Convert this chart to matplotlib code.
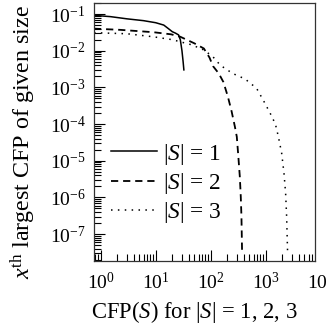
import numpy as np
import matplotlib
matplotlib.use("Agg")
import matplotlib.pyplot as plt
from matplotlib.ticker import LogLocator, NullFormatter

plt.rcParams['font.family'] = ['Liberation Serif', 'DejaVu Serif']
plt.rcParams['mathtext.fontset'] = 'custom'
plt.rcParams['mathtext.rm'] = 'Liberation Serif'
plt.rcParams['mathtext.it'] = 'Liberation Serif:italic'
plt.rcParams['mathtext.bf'] = 'Liberation Serif:bold'

# |S| = 1
x1 = [0.755, 1.5, 3, 6, 10, 14, 17, 20, 23, 26, 28, 30, 31.5, 32.5]
y1 = [0.092, 0.085, 0.074, 0.066, 0.058, 0.05, 0.04, 0.033, 0.03, 0.027, 0.02, 0.01, 0.005, 0.003]
# |S| = 2
x2 = [0.755, 2.3, 9, 19, 28, 50, 75, 95, 110, 140, 170, 205, 240, 275, 298, 318, 338, 352, 362, 372]
y2 = [0.040, 0.037, 0.032, 0.028, 0.024, 0.016, 0.0115, 0.0065, 0.0038, 0.0024, 0.0014,
      5.6e-4, 2.2e-4, 8.5e-5, 4.5e-5, 1.3e-5, 3.7e-6, 1.05e-6, 3e-7, 3e-8]
# |S| = 3
x3 = [0.755, 3, 9, 20, 45, 75, 110, 150, 250, 420, 680, 900, 1200, 1500, 1700, 1950, 2150, 2300, 2400, 2500]
y3 = [0.031, 0.029, 0.024, 0.020, 0.0145, 0.0105, 0.0068, 0.0040, 0.0024, 0.0017, 0.00095,
      0.00045, 0.0002, 0.0001, 4.5e-5, 1.6e-5, 4.5e-6, 1.3e-6, 3e-7, 3e-8]

labels = [r'$|S|$ = 1', r'$|S|$ = 2', r'$|S|$ = 3']

fig = plt.figure(figsize=(3.26, 3.25), dpi=100)
ax = fig.add_axes([94/326, 1 - 260.5/325, 221/326, 257.5/325])

ax.plot(x1, y1, color='black', lw=1.1, linestyle='-', label=labels[0])
ax.plot(x2, y2, color='black', lw=1.3, linestyle=(0, (4, 2.7)), label=labels[1])
ax.plot(x3, y3, color='black', lw=1.1, linestyle=(0, (1, 3.5)), label=labels[2])

ax.set_xscale('log')
ax.set_yscale('log')
ax.set_xlim(0.755, 7870)
ax.set_ylim(1.9e-8, 0.2)

for a in (ax.xaxis, ax.yaxis):
    a.set_major_locator(LogLocator(base=10, numticks=100))
    a.set_minor_locator(LogLocator(base=10, subs=np.arange(2, 10), numticks=100))
    a.set_minor_formatter(NullFormatter())

ax.tick_params(which='both', direction='in', top=False, right=False, labelsize=14, width=0.8)
ax.tick_params(which='major', length=7.7)
ax.tick_params(which='minor', length=5)
ax.tick_params(axis='x', which='major', pad=8)
ax.tick_params(axis='y', which='major', pad=6)
for s in ax.spines.values():
    s.set_linewidth(0.9)
    s.set_color('#333333')

ax.annotate(r'$\mathdefault{10^{4}}$', xy=(1e4, 0), xycoords=('data', 'axes fraction'),
            xytext=(0, -8), textcoords='offset points', ha='center', va='top',
            fontsize=14, annotation_clip=False)

ax.set_xlabel(r'CFP($S$) for $|S|$ = 1, 2, 3', fontsize=16.3)
ax.xaxis.set_label_coords(0.452, -0.15)
ax.set_ylabel(r'$x^{\rm th}$ largest CFP of given size', fontsize=17.3)
ax.yaxis.set_label_coords(-0.255, 0.46)

ax.legend(loc='center left', bbox_to_anchor=(0.077, 0.30), frameon=False, fontsize=16.8,
          handlelength=1.97, handletextpad=0.26, labelspacing=0.18, borderpad=0, borderaxespad=0)

fig.savefig('out.png', dpi=100)
